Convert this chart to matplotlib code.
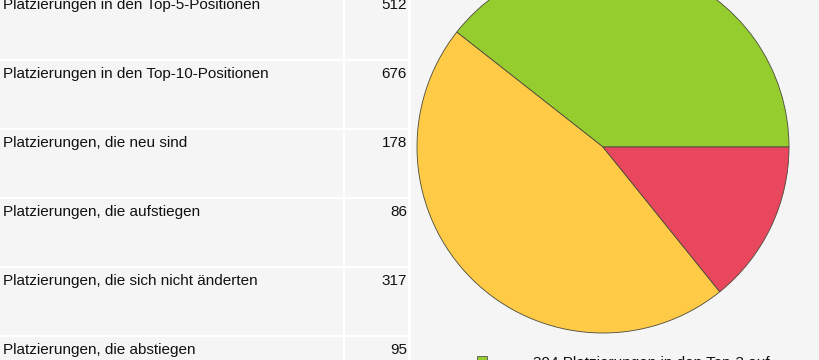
import matplotlib.pyplot as plt
from matplotlib.patches import Rectangle

labels = [
    "Platzierungen in den Top-5-Positionen",
    "Platzierungen in den Top-10-Positionen",
    "Platzierungen, die neu sind",
    "Platzierungen, die aufstiegen",
    "Platzierungen, die sich nicht änderten",
    "Platzierungen, die abstiegen",
]
values = [512, 676, 178, 86, 317, 95]

pie_values = [394, 464, 142]
pie_colors = ["#95CD2F", "#FFCB47", "#E9475D"]
legend_text = "394 Platzierungen in den Top-3 auf"

bg = "#f5f5f5"
plt.rcParams['font.family'] = ['Liberation Sans', 'DejaVu Sans']

fig = plt.figure(figsize=(8.2, 3.6), dpi=100)
fig.patch.set_facecolor("white")

# background / table in pixel coordinates
ax = fig.add_axes([0, 0, 1, 1])
ax.set_xlim(0, 820)
ax.set_ylim(360, 0)
ax.axis("off")

row_h = 69
top = -8
for i, (lab, val) in enumerate(zip(labels, values)):
    y0 = top + i * row_h
    ax.add_patch(Rectangle((0, y0), 343, row_h - 2, color=bg, lw=0))
    ax.add_patch(Rectangle((345, y0), 63, row_h - 2, color=bg, lw=0))
    ax.text(3, y0 + 13, lab, fontsize=11, va="center", ha="left", color="#111111")
    ax.text(407, y0 + 13, str(val), fontsize=11, va="center", ha="right", color="#111111")

ax.add_patch(Rectangle((411, 0), 409, 360, color=bg, lw=0))

# legend entry (cut off at bottom)
ax.add_patch(Rectangle((477, 356), 10, 10, facecolor=pie_colors[0], edgecolor="#555555", lw=0.6))
ax.text(533, 356, legend_text, fontsize=11, va="top", ha="left", color="#111111")

# pie
cx, cy, r = 603, 147, 186
pax = fig.add_axes([(cx - r) / 820, (360 - cy - r) / 360, 2 * r / 820, 2 * r / 360])
pax.pie(pie_values, colors=pie_colors, startangle=0, counterclock=True,
        wedgeprops=dict(edgecolor="#4a4a3a", linewidth=0.6))
pax.set_xlim(-1, 1)
pax.set_ylim(-1, 1)
pax.axis("off")

fig.savefig("out.png", dpi=100, facecolor=fig.get_facecolor())
